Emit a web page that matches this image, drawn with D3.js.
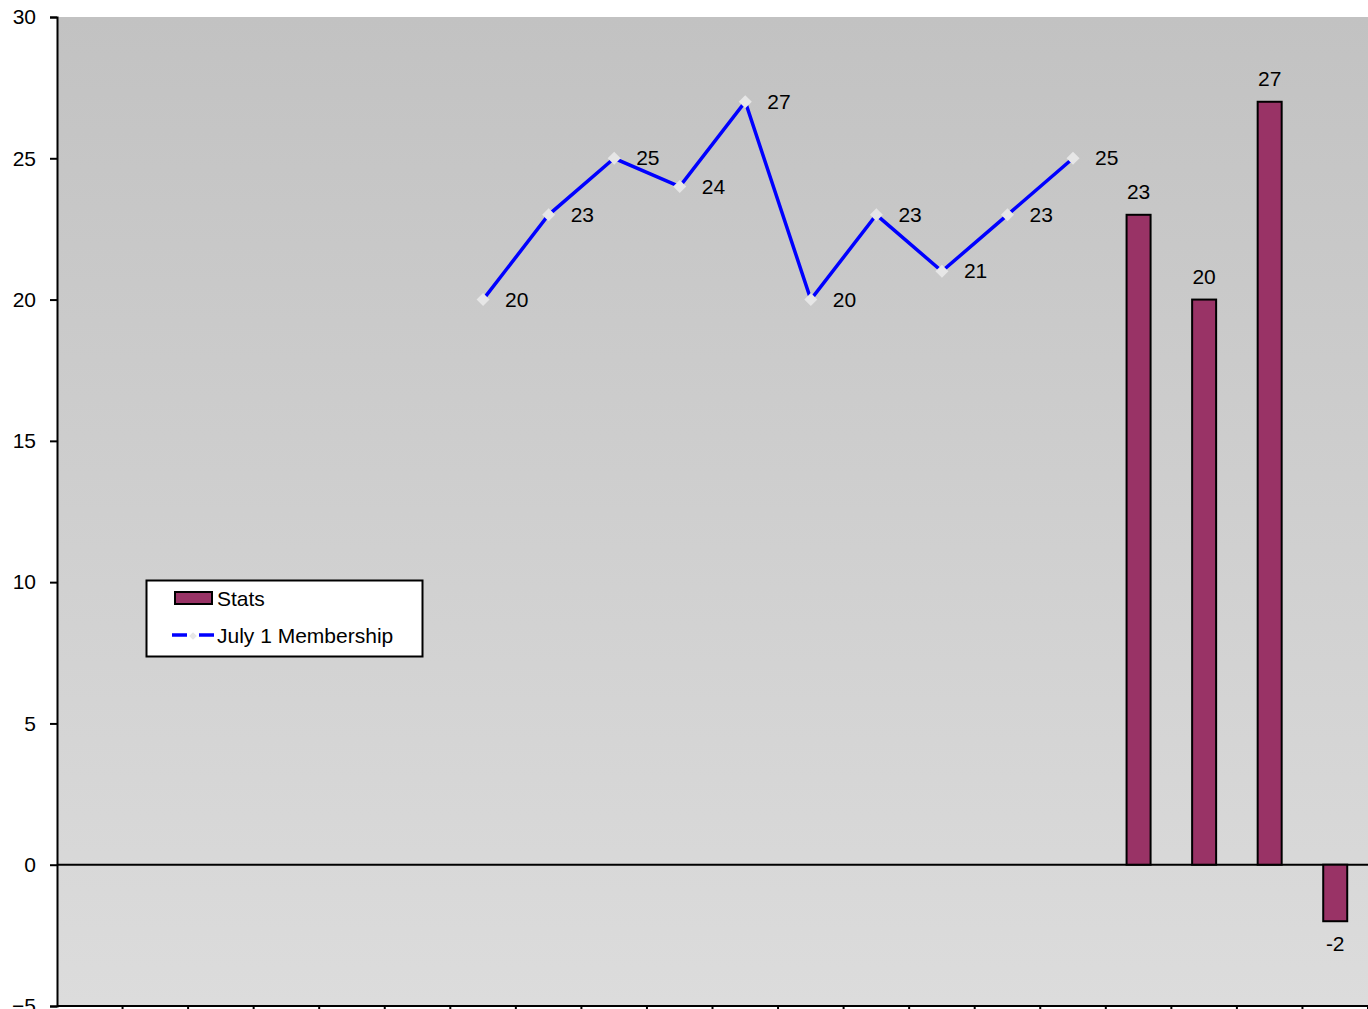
<!DOCTYPE html>
<html><head><meta charset="utf-8">
<script src="https://cdn.jsdelivr.net/npm/d3@7"></script>
<style>body{margin:0;background:#fff}svg{display:block}text{font-family:"Liberation Sans",Arial,sans-serif}</style>
</head><body>
<script>
const categories = d3.range(1, 21).map(String);
const membership = [null,null,null,null,null,null,20,23,25,24,27,20,23,21,23,25,null,null,null,null];
const stats = [null,null,null,null,null,null,null,null,null,null,null,null,null,null,null,null,23,20,27,-2];
const yTicks = [-5,0,5,10,15,20,25,30];
const seriesNames = ["Stats","July 1 Membership"];

(function(){
const W = 1368, H = 1009;
const pL = 57, pR = 1368, pT = 17, pB = 1006;
const svg = d3.select("body").append("svg").attr("width", W).attr("height", H);

const x = d3.scaleBand().domain(categories).range([pL, pR]);
const y = d3.scaleLinear().domain([-5, 30]).range([pB, pT]);

const defs = svg.append("defs");
const g = defs.append("linearGradient").attr("id","bg").attr("x1",0).attr("y1",0).attr("x2",0).attr("y2",1);
g.append("stop").attr("offset","0%").attr("stop-color","#c2c2c2");
g.append("stop").attr("offset","100%").attr("stop-color","#dcdcdc");

svg.append("rect").attr("x", pL).attr("y", pT).attr("width", pR-pL).attr("height", pB-pT).attr("fill","url(#bg)");

// y axis
const yAxis = svg.append("g").attr("transform", `translate(${pL},0)`)
  .call(d3.axisLeft(y).tickValues(yTicks).tickSize(7).tickPadding(14));
yAxis.select(".domain").attr("stroke","#000").attr("stroke-width",2);
yAxis.selectAll(".tick line").attr("stroke","#000").attr("stroke-width",2);
yAxis.selectAll("text").attr("font-size",21).attr("fill","#000").attr("font-family","Liberation Sans, Arial, sans-serif");

// x axis (bottom) with ticks between categories
const bx = svg.append("g");
bx.append("line").attr("x1",pL).attr("x2",pR).attr("y1",pB).attr("y2",pB).attr("stroke","#000").attr("stroke-width",2);
bx.selectAll("line.t").data(categories).join("line").attr("class","t")
  .attr("x1",d=>x(d)+x.bandwidth()).attr("x2",d=>x(d)+x.bandwidth())
  .attr("y1",pB).attr("y2",pB+7).attr("stroke","#000").attr("stroke-width",2);

// zero line
svg.append("line").attr("x1",pL).attr("x2",pR).attr("y1",y(0)).attr("y2",y(0)).attr("stroke","#000").attr("stroke-width",2);

// bars
const barW = 24;
const barData = categories.map((c,i)=>({c, v:stats[i]})).filter(d=>d.v!==null);
svg.selectAll("rect.bar").data(barData).join("rect").attr("class","bar")
  .attr("x", d=>x(d.c)+x.bandwidth()/2-barW/2)
  .attr("y", d=>y(Math.max(0,d.v)))
  .attr("width", barW)
  .attr("height", d=>Math.abs(y(d.v)-y(0)))
  .attr("fill","#993366").attr("stroke","#000").attr("stroke-width",2);
svg.selectAll("text.bl").data(barData).join("text").attr("class","bl")
  .attr("x", d=>x(d.c)+x.bandwidth()/2)
  .attr("y", d=> d.v>=0 ? y(d.v)-16 : y(d.v)+30)
  .attr("text-anchor","middle").attr("font-size",21).attr("fill","#000")
  .text(d=>d.v);

// line
const lineData = categories.map((c,i)=>({c, v:membership[i]})).filter(d=>d.v!==null);
const line = d3.line().x(d=>x(d.c)+x.bandwidth()/2).y(d=>y(d.v));
svg.append("path").datum(lineData).attr("d", line).attr("fill","none").attr("stroke","#0000ff").attr("stroke-width",3.5).attr("stroke-linejoin","miter");
const sq = d3.symbol().type(d3.symbolSquare).size(85);
svg.selectAll("path.mk").data(lineData).join("path").attr("class","mk")
  .attr("d", sq)
  .attr("transform", d=>`translate(${x(d.c)+x.bandwidth()/2},${y(d.v)}) rotate(45)`)
  .attr("fill","#e6e6e6");
svg.selectAll("text.ll").data(lineData).join("text").attr("class","ll")
  .attr("x", d=>x(d.c)+x.bandwidth()/2+22)
  .attr("y", d=>y(d.v)+7)
  .attr("font-size",21).attr("fill","#000")
  .text(d=>d.v);

// legend
const lg = svg.append("g");
lg.append("rect").attr("x",146.5).attr("y",580.5).attr("width",276).attr("height",76).attr("fill","#fff").attr("stroke","#000").attr("stroke-width",2);
lg.append("rect").attr("x",175).attr("y",592).attr("width",37).attr("height",12).attr("fill","#993366").attr("stroke","#000").attr("stroke-width",2);
lg.append("text").attr("x",217).attr("y",606).attr("font-size",21).attr("fill","#000").text(seriesNames[0]);
lg.append("line").attr("x1",172).attr("x2",187).attr("y1",635).attr("y2",635).attr("stroke","#0000ff").attr("stroke-width",3.5);
lg.append("line").attr("x1",199).attr("x2",214).attr("y1",635).attr("y2",635).attr("stroke","#0000ff").attr("stroke-width",3.5);
lg.append("path").attr("d", d3.symbol().type(d3.symbolSquare).size(30)).attr("transform","translate(193,636) rotate(45)").attr("fill","#e6e6e6");
lg.append("text").attr("x",217).attr("y",643).attr("font-size",21).attr("fill","#000").text(seriesNames[1]);
})();
</script>
</body></html>
